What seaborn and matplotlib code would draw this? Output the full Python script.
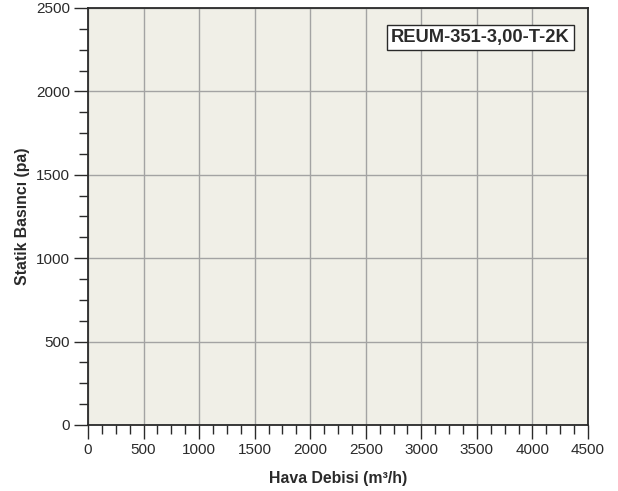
import matplotlib
matplotlib.use("Agg")
import matplotlib.pyplot as plt
import seaborn as sns
import numpy as np
import pandas as pd

x_ticks = [0, 500, 1000, 1500, 2000, 2500, 3000, 3500, 4000, 4500]
y_ticks = [0, 500, 1000, 1500, 2000, 2500]
x_label = "Hava Debisi (m³/h)"
y_label = "Statik Basıncı (pa)"
model_name = "REUM-351-3,00-T-2K"
flow = []
pressure = []

sns.set_theme(style="white")
plt.rcParams['font.family'] = ['Liberation Sans', 'DejaVu Sans']

fig = plt.figure(figsize=(6.18, 4.91), dpi=100)
L, R, T, B = 88, 588, 8, 425
ax = fig.add_axes([L/618, 1 - B/491, (R-L)/618, (B-T)/491])
ax.set_facecolor("#f0efe7")

df = pd.DataFrame({"flow": flow, "pressure": pressure})
sns.lineplot(data=df, x="flow", y="pressure", ax=ax)

ax.set_xlim(x_ticks[0], x_ticks[-1])
ax.set_ylim(y_ticks[0], y_ticks[-1])
ax.set_xticks(x_ticks)
ax.set_yticks(y_ticks)
ax.set_xticks(np.arange(x_ticks[0], x_ticks[-1] + 1, 125), minor=True)
ax.set_yticks(np.arange(y_ticks[0], y_ticks[-1] + 1, 125), minor=True)
ax.set_xticklabels([str(v) for v in x_ticks], fontsize=11, color="#2a2a2a")
ax.set_yticklabels([str(v) for v in y_ticks], fontsize=11, color="#2a2a2a")

ax.grid(True, which="major", color="#a3a3a3", linewidth=1.0)
ax.set_axisbelow(True)
ax.tick_params(axis="both", which="both", direction="out", color="#2a2a2a",
               bottom=True, left=True, width=1.0)
ax.tick_params(axis="both", which="major", length=10, pad=3)
ax.tick_params(axis="both", which="minor", length=6.5)

for s in ax.spines.values():
    s.set_color("#2a2a2a")
    s.set_linewidth(1.3)

ax.set_xlabel(x_label, fontsize=11.4, fontweight="bold", color="#2a2a2a", labelpad=10)
ax.set_ylabel(y_label, fontsize=11.4, fontweight="bold", color="#2a2a2a")
ax.yaxis.set_label_coords(-(L - 30) / (R - L), 0.5)

ax.text(0.785, 0.929, model_name, transform=ax.transAxes, ha="center", va="center",
        fontsize=13.2, fontweight="bold", color="#2a2a2a",
        bbox=dict(boxstyle="square,pad=0.2", facecolor="white", edgecolor="#2a2a2a", linewidth=1.0))

fig.savefig("out.png", dpi=100)
